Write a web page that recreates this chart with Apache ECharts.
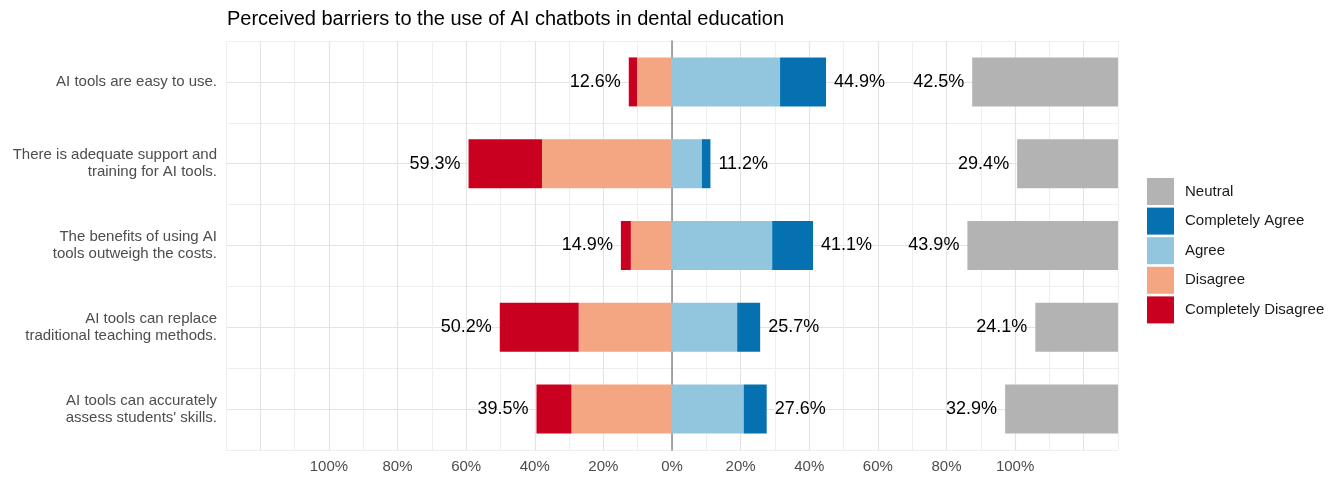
<!DOCTYPE html>
<html>
<head>
<meta charset="utf-8">
<script src="https://cdn.jsdelivr.net/npm/echarts@6/dist/echarts.min.js"></script>
<style>
  html, body { margin: 0; padding: 0; background: #fff; }
  #chart { width: 1338px; height: 477px; }
</style>
</head>
<body>
<div id="chart"></div>
<script>
// statements, top to bottom
var items = [
    'AI tools are easy to use.',
    'There is adequate support and\ntraining for AI tools.',
    'The benefits of using AI\ntools outweigh the costs.',
    'AI tools can replace\ntraditional teaching methods.',
    "AI tools can accurately\nassess students' skills."
];

// percentages per response level
var completelyDisagree = [2.4, 21.4, 2.9, 23.0, 10.2];
var disagree = [10.2, 37.9, 12.0, 27.2, 29.3];
var agree = [31.5, 8.7, 29.2, 19.0, 20.9];
var completelyAgree = [13.4, 2.5, 11.9, 6.7, 6.7];
var neutral = [42.5, 29.4, 43.9, 24.1, 32.9];

var xTicks = [-100, -80, -60, -40, -20, 0, 20, 40, 60, 80, 100];
var xLimit = 130;

var colors = {
    'Completely Disagree': '#CA0020',
    'Disagree': '#F4A582',
    'Agree': '#92C5DE',
    'Completely Agree': '#0571B0',
    'Neutral': '#B3B3B3'
};

function pct(v) { return v.toFixed(1) + '%'; }

var disTotal = completelyDisagree.map(function (v, i) { return v + disagree[i]; });
var agrTotal = agree.map(function (v, i) { return v + completelyAgree[i]; });

var chart = echarts.init(document.getElementById('chart'));

var labelFont = { fontSize: 18, color: '#000', fontFamily: 'Liberation Sans' };
var gridColors = ['#EFEFEF', '#E4E4E4'];   // minor, major

chart.setOption({
    animation: false,
    textStyle: { fontFamily: 'Liberation Sans' },
    title: {
        text: 'Perceived barriers to the use of AI chatbots in dental education',
        left: 227,
        top: 9,
        padding: 0,
        textStyle: { fontSize: 20, fontWeight: 'normal', color: '#000' }
    },
    legend: {
        orient: 'vertical',
        left: 1147,
        top: 178,
        padding: 0,
        itemWidth: 27,
        itemHeight: 27,
        itemGap: 2.6,
        icon: 'rect',
        data: ['Neutral', 'Completely Agree', 'Agree', 'Disagree', 'Completely Disagree'],
        textStyle: { fontSize: 15, color: '#1A1A1A', padding: [0, 0, 0, 6] }
    },
    grid: {
        left: 226,
        right: 1338 - 1118,
        top: 41,
        bottom: 477 - 450
    },
    xAxis: {
        type: 'value',
        min: -xLimit,
        max: xLimit,
        interval: 10,
        axisLine: { show: false },
        axisTick: { show: false },
        axisLabel: {
            fontSize: 15,
            color: '#4D4D4D',
            margin: 9,
            formatter: function (v) {
                return xTicks.indexOf(v) >= 0 ? Math.abs(v) + '%' : '';
            }
        },
        splitLine: { lineStyle: { color: gridColors, width: 1.2 } }
    },
    yAxis: [{
        type: 'category',
        data: items,
        inverse: true,
        axisTick: { show: false },
        axisLine: { show: true, onZero: true, lineStyle: { color: '#8A8A8A', width: 1.5 } },
        axisLabel: { fontSize: 15, color: '#4D4D4D', lineHeight: 17, margin: 9 },
        splitLine: { show: false }
    }, {
        type: 'value',
        min: 0,
        max: 10,
        interval: 1,
        position: 'right',
        axisLine: { show: false },
        axisTick: { show: false },
        axisLabel: { show: false },
        splitLine: { lineStyle: { color: gridColors, width: 1.2 } }
    }],
    series: [{
        name: 'Agree',
        type: 'bar',
        stack: 'likert',
        barWidth: 49,
        barGap: '-100%',
        itemStyle: { color: colors['Agree'] },
        data: agree
    }, {
        name: 'Completely Agree',
        type: 'bar',
        stack: 'likert',
        barWidth: 49,
        barGap: '-100%',
        itemStyle: { color: colors['Completely Agree'] },
        label: {
            show: true,
            position: 'right',
            distance: 8,
            formatter: function (p) { return pct(agrTotal[p.dataIndex]); },
            textStyle: labelFont
        },
        data: completelyAgree
    }, {
        name: 'Disagree',
        type: 'bar',
        stack: 'likert',
        barWidth: 49,
        barGap: '-100%',
        itemStyle: { color: colors['Disagree'] },
        data: disagree.map(function (v) { return -v; })
    }, {
        name: 'Completely Disagree',
        type: 'bar',
        stack: 'likert',
        barWidth: 49,
        barGap: '-100%',
        itemStyle: { color: colors['Completely Disagree'] },
        label: {
            show: true,
            position: 'left',
            distance: 8,
            formatter: function (p) { return pct(disTotal[p.dataIndex]); },
            textStyle: labelFont
        },
        data: completelyDisagree.map(function (v) { return -v; })
    }, {
        name: 'base',
        type: 'bar',
        stack: 'neutral',
        barWidth: 49,
        barGap: '-100%',
        silent: true,
        itemStyle: { color: 'transparent' },
        data: neutral.map(function (v) { return xLimit - v; })
    }, {
        name: 'Neutral',
        type: 'bar',
        stack: 'neutral',
        barWidth: 49,
        barGap: '-100%',
        itemStyle: { color: colors['Neutral'] },
        label: {
            show: true,
            position: 'left',
            distance: 8,
            formatter: function (p) { return pct(p.value); },
            textStyle: labelFont
        },
        data: neutral
    }]
});
</script>
</body>
</html>
